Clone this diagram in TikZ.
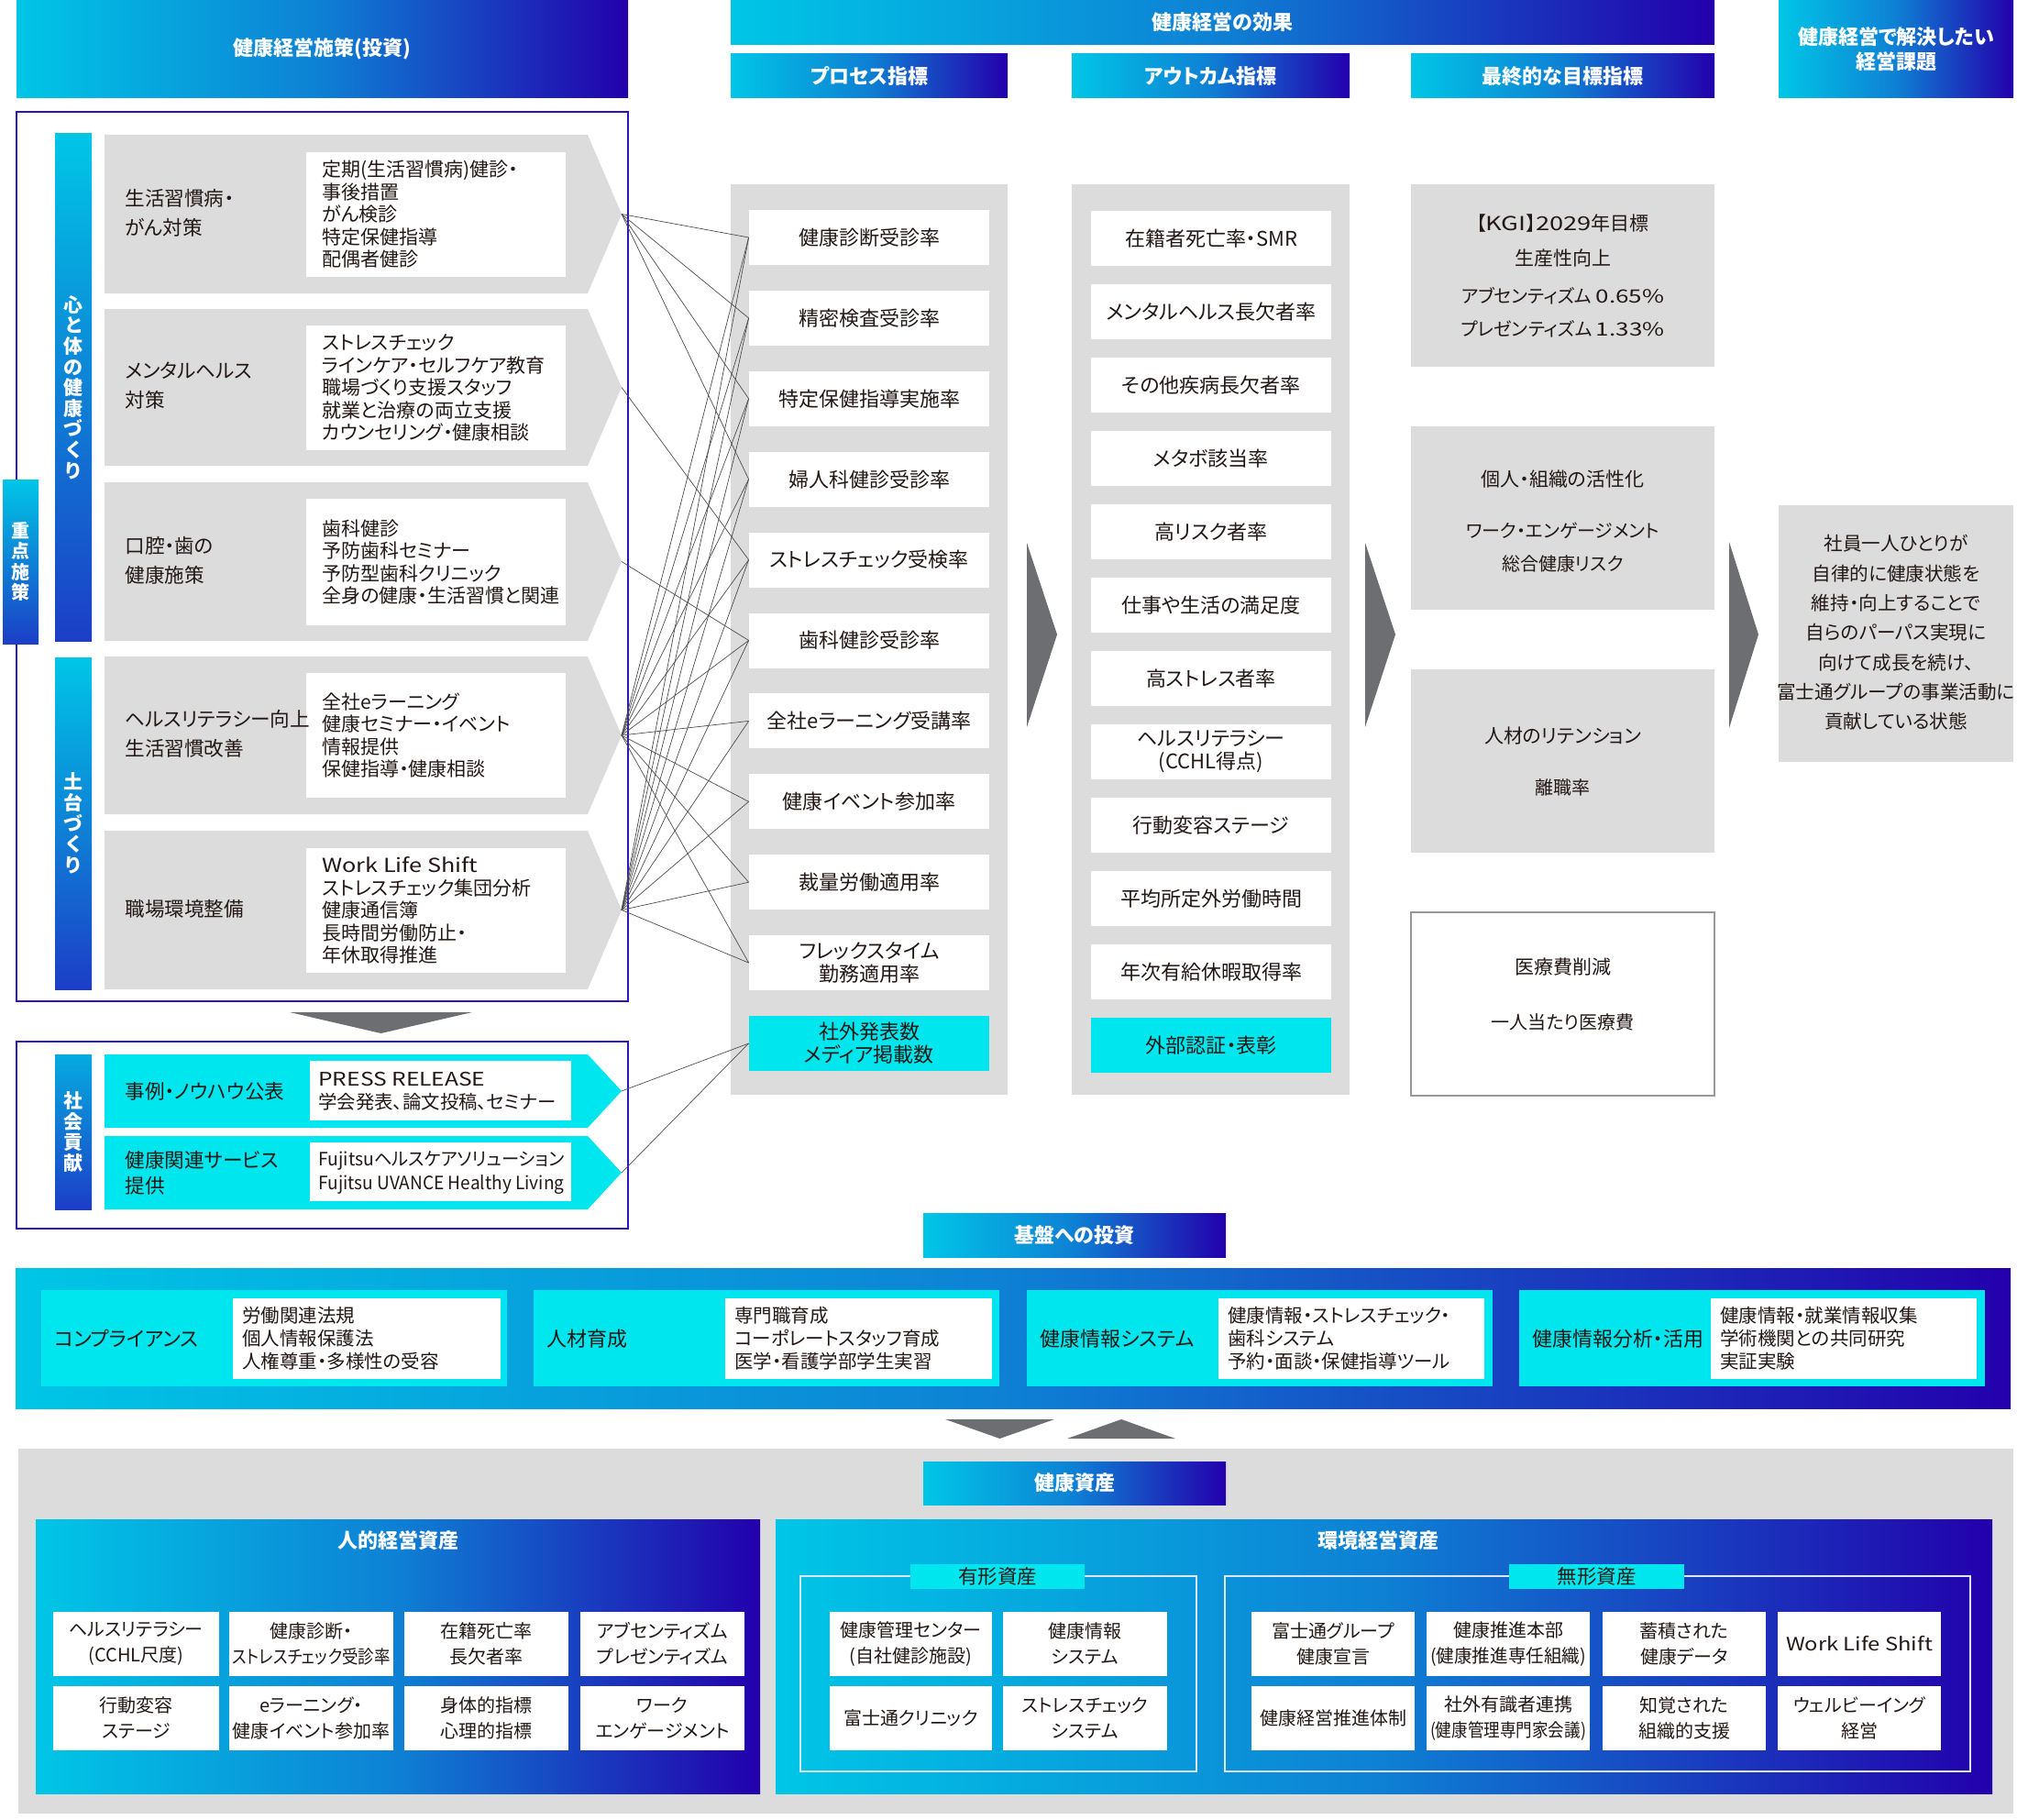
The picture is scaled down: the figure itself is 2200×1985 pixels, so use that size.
\documentclass[tikz,border=0pt]{standalone}
\usepackage{fontspec}
\usepackage{graphicx}
\setmainfont{Noto Sans CJK JP}[RawFeature=+palt]
\definecolor{cyb}{HTML}{00E6EE}
\definecolor{gA}{HTML}{00C6E6}
\definecolor{gM}{HTML}{0E80D4}
\definecolor{gB}{HTML}{2300AC}
\definecolor{frm}{HTML}{2A16BE}
\definecolor{lgr}{HTML}{DCDCDC}
\definecolor{dgr}{HTML}{6D6E71}
\definecolor{txt}{HTML}{231815}
\definecolor{lnc}{HTML}{4D4D4D}
\definecolor{vbB}{HTML}{1C3EC6}
\definecolor{wfr}{HTML}{DDE6F5}
\newcommand{\fz}[2]{\fontsize{#1}{#2}\selectfont}
\newcommand{\wl}[1]{\scalebox{1.3}[1]{#1}}
\newcommand{\bx}[7]{%
  \pgfmathsetmacro\myW{(#5-#3)*0.5}%
  \pgfmathsetmacro\myH{(#6-#4)*0.5}%
  \pgfmathsetmacro\myX{(#3+#5)/2}%
  \pgfmathsetmacro\myY{(#4+#6)/2}%
  \node[rectangle,inner sep=0pt,outer sep=0pt,minimum width=\myW pt,minimum height=\myH pt,#2] (#1) at (\myX,\myY) {#7};}
\newcommand{\arw}[4]{%
  \fill[#4] (114,#2) -- (641,#2) -- (678,{(#2+#3)/2}) -- (641,#3) -- (114,#3) -- cycle;
  \coordinate (#1) at (678,{(#2+#3)/2});}
\newcommand{\smbox}[6]{\bx{#1}{sbox}{#2}{#3}{#4}{#5}{#6}}
\begin{document}
\begin{tikzpicture}[x=0.5pt,y=-0.5pt,
  every node/.style={text=txt},
  grad/.style={left color=gA, right color=gB, middle color=gM},
  hdr/.style={grad, text=white, font=\bfseries\fz{11pt}{13.5pt}, align=center},
  vbar/.style={top color=gA, bottom color=vbB, text=white, font=\bfseries\fz{10.5pt}{11.3pt}, align=center},
  pbox/.style={rectangle, minimum width=131pt, minimum height=30pt, inner sep=0pt, align=center, font=\fz{11pt}{12.5pt}},
  lbl/.style={anchor=west, align=left, inner sep=0pt, font=\fz{10.8pt}{16pt}},
  lst/.style={anchor=west, align=left, inner sep=0pt, font=\fz{10.5pt}{12.25pt}},
  fan/.style={draw=lnc, line width=0.35pt},
  sbox/.style={fill=white, align=center, font=\fz{10pt}{14pt}},
  ft/.style={font=\fz{10.5pt}{13pt}, inner sep=0pt},
  fs/.style={font=\fz{10pt}{12pt}, inner sep=0pt},
]
\useasboundingbox (0,0) rectangle (2200,1985);

% ---------- headers
\bx{hInv}{hdr}{18}{0}{685}{107}{健康経営施策(投資)}
\bx{hEff}{hdr}{797}{0}{1870}{49}{健康経営の効果}
\bx{hProc}{hdr}{797}{59}{1099}{107}{プロセス指標}
\bx{hOut}{hdr}{1169}{59}{1472}{107}{アウトカム指標}
\bx{hFin}{hdr}{1539}{59}{1870}{107}{最終的な目標指標}
\bx{hIss}{hdr}{1940}{0}{2196}{107}{健康経営で解決したい\\経営課題}

% ---------- left investments frame
\bx{frA}{draw=frm, line width=1pt}{18}{122}{685}{1092}{}
\bx{barA}{vbar}{60}{146}{100}{699}{心\\と\\体\\の\\健\\康\\づ\\く\\り}
\bx{barB}{vbar}{60}{717}{100}{1079}{土\\台\\づ\\く\\り}
\bx{barC}{vbar, font=\bfseries\fz{10pt}{11.2pt}}{3}{523}{42}{702}{重\\点\\施\\策}

\arw{t1}{147}{320}{lgr}
\arw{t2}{337}{508}{lgr}
\arw{t3}{526}{699}{lgr}
\arw{t4}{716}{888}{lgr}
\arw{t5}{906}{1079}{lgr}

\bx{w1}{fill=white}{334}{166}{617}{302}{}
\bx{w2}{fill=white}{334}{355}{617}{491}{}
\bx{w3}{fill=white}{334}{544}{617}{682}{}
\bx{w4}{fill=white}{334}{734}{617}{870}{}
\bx{w5}{fill=white}{334}{925}{617}{1061}{}

\node[lbl] (a1) at (136,232) {生活習慣病・\\がん対策};
\node[lbl] (a2) at (136,421) {メンタルヘルス\\対策};
\node[lbl] (a3) at (136,611) {口腔・歯の\\健康施策};
\node[lbl] (a4) at (136,800) {ヘルスリテラシー向上\\生活習慣改善};
\node[lbl] (a5) at (136,991) {職場環境整備};

\node[lst] (l1) at (351,234) {定期(生活習慣病)健診・\\事後措置\\がん検診\\特定保健指導\\配偶者健診};
\node[lst] (l2) at (351,423) {ストレスチェック\\ラインケア・セルフケア教育\\職場づくり支援スタッフ\\就業と治療の両立支援\\カウンセリング・健康相談};
\node[lst] (l3) at (351,613) {歯科健診\\予防歯科セミナー\\予防型歯科クリニック\\全身の健康・生活習慣と関連};
\node[lst] (l4) at (351,802) {全社eラーニング\\健康セミナー・イベント\\情報提供\\保健指導・健康相談};
\node[lst] (l5) at (351,993) {\resizebox{85pt}{\height}{Work Life Shift}\\ストレスチェック集団分析\\健康通信簿\\長時間労働防止・\\年休取得推進};

\fill[dgr] (316,1104) -- (515,1104) -- (415.5,1127) -- cycle;

% ---------- social contribution
\bx{frB}{draw=frm, line width=1pt}{18}{1136}{685}{1340}{}
\bx{barD}{vbar, top color=gA!80!vbB}{60}{1150}{100}{1319}{社\\会\\貢\\献}
\arw{t6}{1150}{1230}{cyb}
\arw{t7}{1239}{1319}{cyb}
\bx{w6}{fill=white}{338}{1157}{623}{1222}{}
\bx{w7}{fill=white}{338}{1246}{623}{1310}{}
\node[lbl] (a6) at (136,1190) {事例・ノウハウ公表};
\node[lbl, font=\fz{10.8pt}{14pt}] (a7) at (136,1279) {健康関連サービス\\提供};
\node[lst, font=\fz{10.2pt}{12.5pt}] (l6) at (347,1190) {\resizebox{91pt}{\height}{PRESS RELEASE}\\学会発表、論文投稿、セミナー};
\node[lst, font=\fz{10pt}{13pt}] (l7) at (347,1279) {\resizebox{134pt}{\height}{Fujitsuヘルスケアソリューション}\\\resizebox{134pt}{\height}{Fujitsu UVANCE Healthy Living}};

% ---------- process & outcome columns
\bx{pcol}{fill=lgr}{797}{201}{1099}{1194}{}
\bx{ocol}{fill=lgr}{1169}{201}{1472}{1194}{}

\node[pbox, fill=white] (p1) at (948,259) {健康診断受診率};
\node[pbox, fill=white] (p2) at (948,346.9) {精密検査受診率};
\node[pbox, fill=white] (p3) at (948,434.8) {特定保健指導実施率};
\node[pbox, fill=white] (p4) at (948,522.7) {婦人科健診受診率};
\node[pbox, fill=white] (p5) at (948,610.6) {ストレスチェック受検率};
\node[pbox, fill=white] (p6) at (948,698.5) {歯科健診受診率};
\node[pbox, fill=white] (p7) at (948,786.4) {全社eラーニング受講率};
\node[pbox, fill=white] (p8) at (948,874.3) {健康イベント参加率};
\node[pbox, fill=white] (p9) at (948,962.2) {裁量労働適用率};
\node[pbox, fill=white] (p10) at (948,1050.1) {フレックスタイム\\勤務適用率};
\node[pbox, fill=cyb] (p11) at (948,1138) {社外発表数\\メディア掲載数};

\node[pbox, fill=white] (o1) at (1321,260) {在籍者死亡率・SMR};
\node[pbox, fill=white] (o2) at (1321,340) {メンタルヘルス長欠者率};
\node[pbox, fill=white] (o3) at (1321,420) {その他疾病長欠者率};
\node[pbox, fill=white] (o4) at (1321,500) {メタボ該当率};
\node[pbox, fill=white] (o5) at (1321,580) {高リスク者率};
\node[pbox, fill=white] (o6) at (1321,660) {仕事や生活の満足度};
\node[pbox, fill=white] (o7) at (1321,740) {高ストレス者率};
\node[pbox, fill=white] (o8) at (1321,820) {ヘルスリテラシー\\(CCHL得点)};
\node[pbox, fill=white] (o9) at (1321,900) {行動変容ステージ};
\node[pbox, fill=white] (o10) at (1321,980) {平均所定外労働時間};
\node[pbox, fill=white] (o11) at (1321,1060) {年次有給休暇取得率};
\node[pbox, fill=cyb] (o12) at (1321,1140) {外部認証・表彰};

% fan connectors
\foreach \k in {1,2,3,4} {\draw[fan] (t1) -- (p\k.west);}
\draw[fan] (t2) -- (p5.west);
\draw[fan] (t3) -- (p6.west);
\foreach \k in {1,...,10} {\draw[fan] (t4) -- (p\k.west); \draw[fan] (t5) -- (p\k.west);}
\draw[fan] (t6) -- (p11.west);
\draw[fan] (t7) -- (p11.west);

% chevrons
\fill[dgr] (1120,592) -- (1153,692) -- (1120,793) -- cycle;
\fill[dgr] (1489,592) -- (1522,692) -- (1489,793) -- cycle;
\fill[dgr] (1886,591) -- (1918,692) -- (1886,794) -- cycle;

% ---------- final targets
\bx{fA}{fill=lgr}{1539}{201}{1870}{400}{}
\node[ft] (fA1) at (1704.5,244) {【\wl{KGI}】\wl{2029}年目標};
\node[ft] (fA2) at (1704.5,281) {生産性向上};
\node[fs] (fA3) at (1704.5,323) {アブセンティズム \wl{0.65\%}};
\node[fs] (fA4) at (1704.5,359) {プレゼンティズム \wl{1.33\%}};
\bx{fB}{fill=lgr}{1539}{465}{1870}{665}{}
\node[ft] (fB1) at (1704.5,523) {個人・組織の活性化};
\node[fs] (fB2) at (1704.5,579) {ワーク・エンゲージメント};
\node[fs] (fB3) at (1704.5,615) {総合健康リスク};
\bx{fC}{fill=lgr}{1539}{730}{1870}{930}{}
\node[ft] (fC1) at (1704.5,803) {人材のリテンション};
\node[fs] (fC2) at (1704.5,859) {離職率};
\bx{fD}{fill=white, draw=black!40, line width=0.6pt}{1539}{995}{1870}{1195}{}
\node[ft] (fD1) at (1704.5,1055) {医療費削減};
\node[fs] (fD2) at (1704.5,1115) {一人当たり医療費};

% goal
\bx{gBox}{fill=lgr}{1940}{551}{2196}{831}{}
\node[align=center, inner sep=0pt, font=\fz{10.3pt}{16.15pt}] (gT) at (2068,690) {社員一人ひとりが\\自律的に健康状態を\\維持・向上することで\\自らのパーパス実現に\\向けて成長を続け、\\富士通グループの事業活動に\\貢献している状態};

% ---------- foundation
\bx{hBase}{hdr}{1007}{1323}{1337}{1371}{基盤への投資}
\bx{band}{grad}{17}{1383}{2193}{1536}{}
\bx{fc1}{fill=cyb}{45}{1407}{553}{1512}{}
\bx{fc2}{fill=cyb}{582}{1407}{1090}{1512}{}
\bx{fc3}{fill=cyb}{1120}{1407}{1628}{1512}{}
\bx{fc4}{fill=cyb}{1657}{1407}{2165}{1512}{}
\bx{fw1}{fill=white}{254}{1416}{546}{1504}{}
\bx{fw2}{fill=white}{791}{1416}{1082}{1504}{}
\bx{fw3}{fill=white}{1329}{1416}{1619}{1504}{}
\bx{fw4}{fill=white}{1866}{1416}{2156}{1504}{}
\node[lbl, font=\fz{11pt}{13pt}] (fl1) at (59,1460) {コンプライアンス};
\node[lbl, font=\fz{11pt}{13pt}] (fl2) at (596,1460) {人材育成};
\node[lbl, font=\fz{11pt}{13pt}] (fl3) at (1134,1460) {健康情報システム};
\node[lbl, font=\fz{11pt}{13pt}] (fl4) at (1671,1460) {健康情報分析・活用};
\node[lst, font=\fz{10.25pt}{12.5pt}] (fs1) at (264,1460) {労働関連法規\\個人情報保護法\\人権尊重・多様性の受容};
\node[lst, font=\fz{10.25pt}{12.5pt}] (fs2) at (801,1460) {専門職育成\\コーポレートスタッフ育成\\医学・看護学部学生実習};
\node[lst, font=\fz{10.25pt}{12.5pt}] (fs3) at (1339,1460) {健康情報・ストレスチェック・\\歯科システム\\予約・面談・保健指導ツール};
\node[lst, font=\fz{10.25pt}{12.5pt}] (fs4) at (1876,1460) {健康情報・就業情報収集\\学術機関との共同研究\\実証実験};

\fill[dgr] (1031,1548) -- (1150,1548) -- (1090.5,1569) -- cycle;
\fill[dgr] (1164,1569) -- (1282,1569) -- (1223,1548) -- cycle;

% ---------- health assets
\bx{bot}{fill=lgr}{20}{1580}{2196}{1978}{}
\bx{hAsset}{hdr}{1007}{1594}{1337}{1641}{健康資産}
\bx{boxH}{grad}{39}{1657}{829}{1956}{}
\bx{boxK}{grad}{846}{1657}{2173}{1956}{}
\node[text=white, font=\bfseries\fz{11pt}{13pt}] (tH) at (434,1680) {人的経営資産};
\node[text=white, font=\bfseries\fz{11pt}{13pt}] (tK) at (1503,1680) {環境経営資産};

\smbox{hA1}{58}{1758}{239}{1828}{ヘルスリテラシー\\(CCHL尺度)}
\smbox{hA2}{250}{1758}{429}{1828}{健康診断・\\\resizebox{86pt}{\height}{ストレスチェック受診率}}
\smbox{hA3}{441}{1758}{620}{1828}{在籍死亡率\\長欠者率}
\smbox{hA4}{633}{1758}{812}{1828}{アブセンティズム\\プレゼンティズム}
\smbox{hB1}{58}{1839}{239}{1909}{行動変容\\ステージ}
\smbox{hB2}{250}{1839}{429}{1909}{eラーニング・\\健康イベント参加率}
\smbox{hB3}{441}{1839}{620}{1909}{身体的指標\\心理的指標}
\smbox{hB4}{633}{1839}{812}{1909}{ワーク\\エンゲージメント}

\bx{fY}{draw=wfr, line width=1pt}{873}{1719}{1305}{1932}{}
\bx{lY}{fill=cyb, font=\fz{10.75pt}{13pt}}{993}{1706}{1183}{1733}{有形資産}
\smbox{yA1}{905}{1758}{1082}{1828}{健康管理センター\\(自社健診施設)}
\smbox{yA2}{1094}{1758}{1273}{1828}{健康情報\\システム}
\smbox{yB1}{905}{1839}{1082}{1909}{富士通クリニック}
\smbox{yB2}{1094}{1839}{1273}{1909}{ストレスチェック\\システム}

\bx{fM}{draw=wfr, line width=1pt}{1336}{1719}{2149}{1932}{}
\bx{lM}{fill=cyb, font=\fz{10.75pt}{13pt}}{1646}{1706}{1837}{1733}{無形資産}
\smbox{mA1}{1365}{1758}{1543}{1828}{富士通グループ\\健康宣言}
\smbox{mA2}{1556}{1758}{1734}{1828}{健康推進本部\\\resizebox{85pt}{\height}{(健康推進専任組織)}}
\smbox{mA3}{1748}{1758}{1926}{1828}{蓄積された\\健康データ}
\smbox{mA4}{1939}{1758}{2117}{1828}{\resizebox{80pt}{\height}{Work Life Shift}}
\smbox{mB1}{1365}{1839}{1543}{1909}{健康経営推進体制}
\smbox{mB2}{1556}{1839}{1734}{1909}{社外有識者連携\\\resizebox{85pt}{\height}{(健康管理専門家会議)}}
\smbox{mB3}{1748}{1839}{1926}{1909}{知覚された\\組織的支援}
\smbox{mB4}{1939}{1839}{2117}{1909}{ウェルビーイング\\経営}
\end{tikzpicture}
\end{document}
